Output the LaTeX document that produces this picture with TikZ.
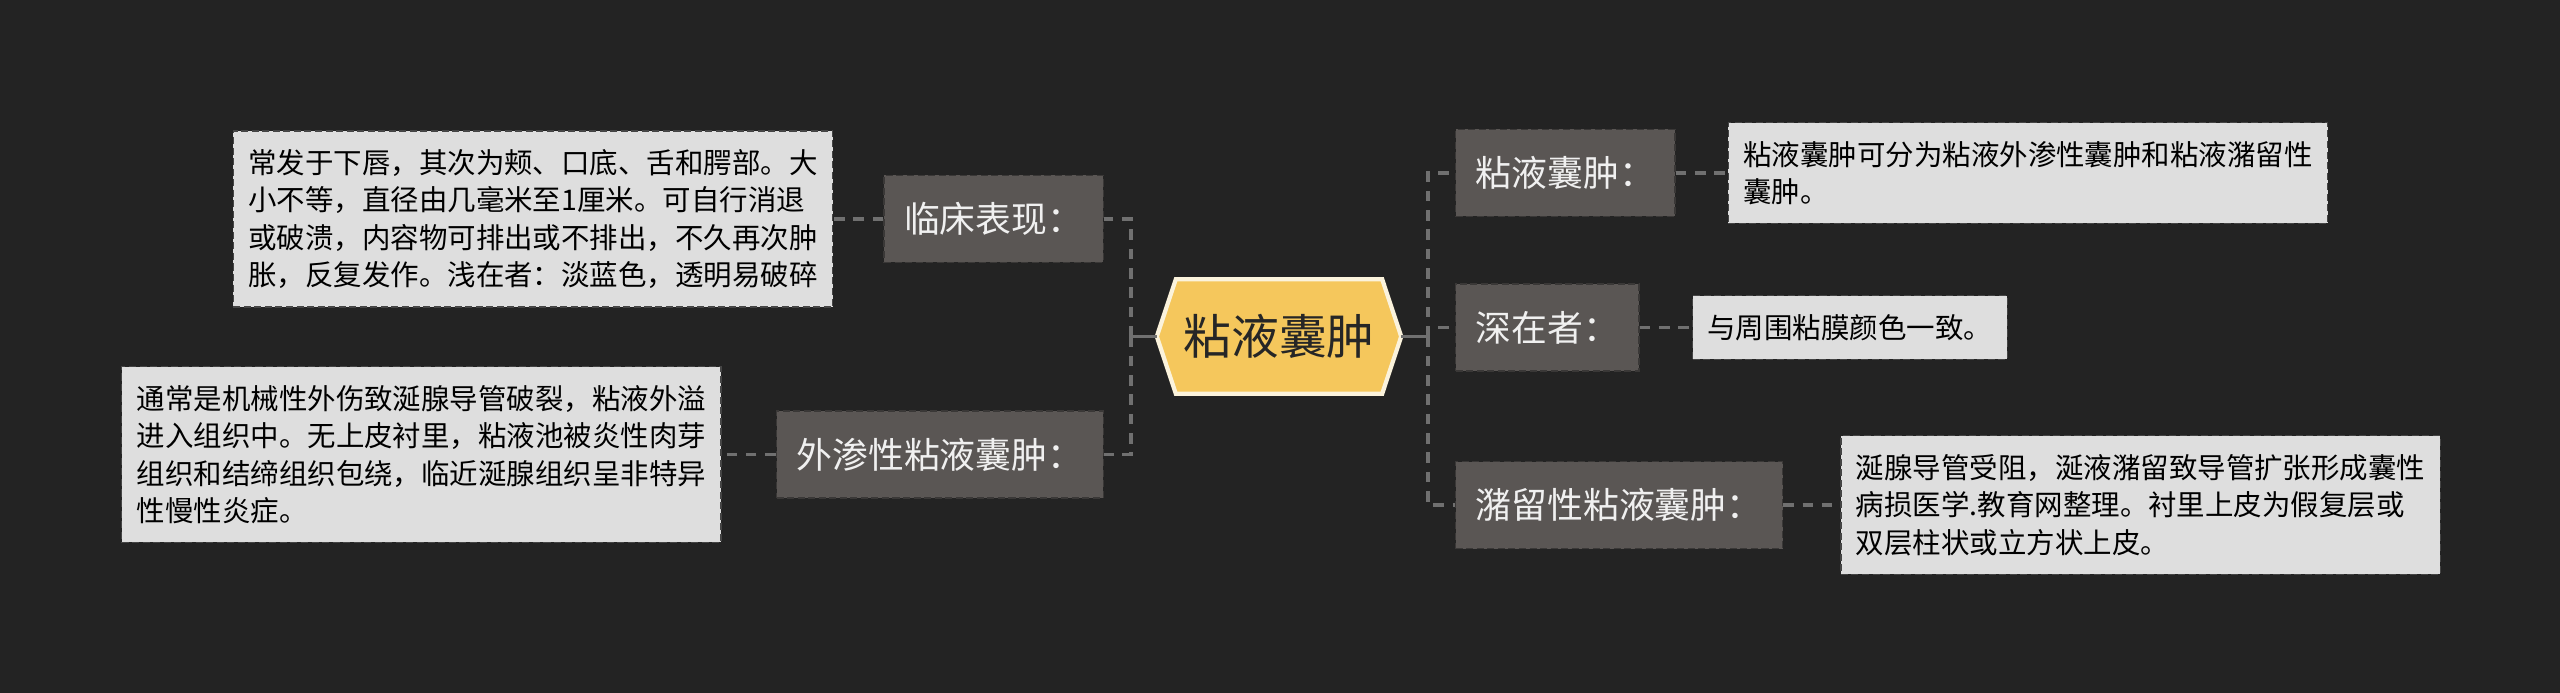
\documentclass[tikz,border=0pt]{standalone}
\usepackage{fontspec}
\setmainfont{Noto Sans CJK SC}
\usepackage{xcolor}
\usetikzlibrary{positioning, backgrounds}

\definecolor{bgdark}{HTML}{232323}
\definecolor{hexfill}{HTML}{F5C75C}
\definecolor{hexedge}{HTML}{FBF3DC}
\definecolor{catfill}{HTML}{5A5654}
\definecolor{catedge}{HTML}{3A3837}
\definecolor{notefill}{HTML}{DEDEDE}
\definecolor{noteedge}{HTML}{454545}
\definecolor{linkgray}{HTML}{707070}

\begin{document}
\begin{tikzpicture}[
  mainbox/.style={minimum width=2.43cm, minimum height=1.13cm, inner sep=0pt, font=\fontsize{13.6pt}{16pt}\selectfont, text=black!85},
  catbox/.style={draw=catedge, dash pattern=on 2pt off 1pt, fill=catfill, text=white!94!black, minimum height=0.87cm, inner xsep=0.2cm, font=\fontsize{10.2pt}{12pt}\selectfont},
  notebox/.style={draw=noteedge, dash pattern=on 2pt off 1pt, fill=notefill, text=black, align=left, inner xsep=0.15cm, inner ysep=0.185cm, font=\fontsize{8.1pt}{10.65pt}\selectfont},
  link/.style={draw=linkgray, line width=0.9pt, dash pattern=on 3pt off 2.5pt},
  stem/.style={draw=linkgray, line width=0.9pt}
]

% --- Canvas ---
\begin{scope}[on background layer]
  \fill[bgdark] (0,0) rectangle (25.6,-6.93);
\end{scope}
\useasboundingbox (0,0) rectangle (25.6,-6.93);

% --- Centre topic ---
\node[mainbox] (main) at (12.79,-3.365) {粘液囊肿};
\begin{scope}[on background layer]
  \draw[fill=hexfill, draw=hexedge, line width=1.2pt] (main.west) -- ([xshift=0.19cm]main.north west) -- ([xshift=-0.19cm]main.north east) -- (main.east) -- ([xshift=-0.19cm]main.south east) -- ([xshift=0.19cm]main.south west) -- cycle;
\end{scope}

% --- Left branches ---
\node[catbox, anchor=east] (clinic) at (11.04,-2.19) {临床表现：};
\node[catbox, anchor=east] (seep)   at (11.04,-4.545) {外渗性粘液囊肿：};

\node[notebox, left=0.5cm of clinic] (clinicnote) {常发于下唇，其次为颊、口底、舌和腭部。大\\小不等，直径由几毫米至1厘米。可自行消退\\或破溃，内容物可排出或不排出，不久再次肿\\胀，反复发作。浅在者：淡蓝色，透明易破碎};
\node[notebox, left=0.54cm of seep] (seepnote) {通常是机械性外伤致涎腺导管破裂，粘液外溢\\进入组织中。无上皮衬里，粘液池被炎性肉芽\\组织和结缔组织包绕，临近涎腺组织呈非特异\\性慢性炎症。};

% --- Right branches ---
\node[catbox, anchor=west] (kinds)  at (14.55,-1.73) {粘液囊肿：};
\node[catbox, anchor=west] (deep)   at (14.55,-3.275) {深在者：};
\node[catbox, anchor=west] (retain) at (14.55,-5.05) {潴留性粘液囊肿：};

\node[notebox, right=0.52cm of kinds] (kindsnote) {粘液囊肿可分为粘液外渗性囊肿和粘液潴留性\\囊肿。};
\node[notebox, right=0.52cm of deep] (deepnote) {与周围粘膜颜色一致。};
\node[notebox, right=0.57cm of retain] (retainnote) {涎腺导管受阻，涎液潴留致导管扩张形成囊性\\病损医学.教育网整理。衬里上皮为假复层或\\双层柱状或立方状上皮。};

% --- Connectors ---
\coordinate (ljoin) at (11.31,-3.365);
\coordinate (rjoin) at (14.28,-3.365);
\draw[stem] (main.west) -- (ljoin);
\draw[stem] (main.east) -- (rjoin);
\draw[link] (ljoin) |- (clinic.east);
\draw[link] (ljoin) |- (seep.east);
\draw[link] (rjoin) |- (kinds.west);
\draw[link] (rjoin) |- (deep.west);
\draw[link] (rjoin) |- (retain.west);

\draw[link] (clinic.west) -- (clinicnote.east);
\draw[link] (seep.west) -- (seepnote.east);
\draw[link] (kinds.east) -- (kindsnote.west);
\draw[link] (deep.east) -- (deepnote.west);
\draw[link] (retain.east) -- (retainnote.west);

\end{tikzpicture}
\end{document}
